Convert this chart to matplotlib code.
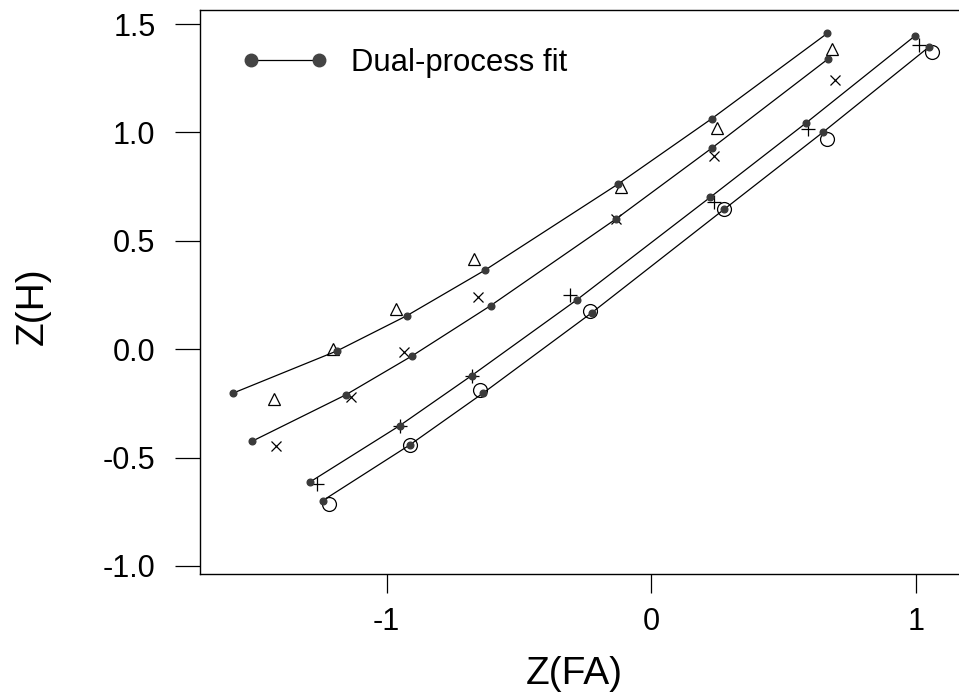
import matplotlib
matplotlib.use("Agg")
import matplotlib.pyplot as plt
from matplotlib.lines import Line2D

plt.rcParams["font.family"] = ["Liberation Sans", "DejaVu Sans"]

# Beobachtete z-ROC-Punkte und Dual-Process-Fit je Bedingung
fit_fa_tri = [-1.581, -1.186, -0.923, -0.628, -0.124, 0.228, 0.666]
fit_h_tri = [-0.203, -0.007, 0.155, 0.365, 0.763, 1.063, 1.458]
obs_fa_tri = [-1.427, -1.203, -0.963, -0.670, -0.113, 0.247, 0.682]
obs_h_tri = [-0.231, 0.001, 0.185, 0.415, 0.750, 1.019, 1.383]

fit_fa_x = [-1.509, -1.155, -0.904, -0.607, -0.132, 0.228, 0.668]
fit_h_x = [-0.425, -0.211, -0.031, 0.201, 0.602, 0.927, 1.339]
obs_fa_x = [-1.419, -1.133, -0.935, -0.655, -0.132, 0.237, 0.694]
obs_h_x = [-0.448, -0.219, -0.013, 0.242, 0.602, 0.893, 1.242]

fit_fa_plus = [-1.290, -0.951, -0.679, -0.282, 0.224, 0.583, 0.996]
fit_h_plus = [-0.613, -0.353, -0.122, 0.227, 0.702, 1.042, 1.445]
obs_fa_plus = [-1.264, -0.951, -0.679, -0.308, 0.236, 0.594, 1.012]
obs_h_plus = [-0.624, -0.353, -0.122, 0.250, 0.680, 1.014, 1.403]

fit_fa_circ = [-1.242, -0.913, -0.636, -0.225, 0.275, 0.650, 1.048]
fit_h_circ = [-0.699, -0.442, -0.203, 0.168, 0.645, 1.002, 1.393]
obs_fa_circ = [-1.216, -0.913, -0.648, -0.233, 0.275, 0.666, 1.060]
obs_h_circ = [-0.715, -0.442, -0.188, 0.176, 0.645, 0.970, 1.369]

x_ticks = [-1, 0, 1]
y_ticks = [-1.0, -0.5, 0.0, 0.5, 1.0, 1.5]

fig = plt.figure(figsize=(9.59, 6.94), dpi=100)
ax = fig.add_axes([200 / 959, 1 - 574 / 694, 759 / 959, 564 / 694])

fits = [(fit_fa_tri, fit_h_tri), (fit_fa_x, fit_h_x),
        (fit_fa_plus, fit_h_plus), (fit_fa_circ, fit_h_circ)]
for fa, h in fits:
    ax.plot(fa, h, color="black", lw=0.9, marker="o", markersize=4.8,
            markerfacecolor="#3a3a3a", markeredgecolor="#3a3a3a", zorder=3)

ax.plot(obs_fa_tri, obs_h_tri, ls="none", marker="^", markersize=8,
        markerfacecolor="none", markeredgecolor="black", markeredgewidth=0.9)
ax.plot(obs_fa_x, obs_h_x, ls="none", marker="x", markersize=7.5,
        color="black", markeredgewidth=0.9)
ax.plot(obs_fa_plus, obs_h_plus, ls="none", marker="+", markersize=10,
        color="black", markeredgewidth=0.9)
ax.plot(obs_fa_circ, obs_h_circ, ls="none", marker="o", markersize=10,
        markerfacecolor="none", markeredgecolor="black", markeredgewidth=0.9)

ax.set_xlim(-1.705, 1.163)
ax.set_ylim(-1.037, 1.565)
ax.set_xticks(x_ticks)
ax.set_xticklabels([str(t) for t in x_ticks])
ax.set_yticks(y_ticks)
ax.set_yticklabels([f"{t:.1f}" for t in y_ticks])
ax.spines["right"].set_visible(False)
for s in ("left", "bottom", "top"):
    ax.spines[s].set_linewidth(1.0)
ax.tick_params(axis="y", direction="out", length=18, width=0.9, pad=14, labelsize=22)
ax.tick_params(axis="x", direction="out", length=14, width=0.9, pad=10, labelsize=22)

ax.set_xlabel("Z(FA)", fontsize=28)
ax.set_ylabel("Z(H)", fontsize=28)
ax.xaxis.set_label_coords(0.493, -0.145)
ax.yaxis.set_label_coords(-0.197, 0.475)

handle = Line2D([], [], color="black", lw=0.9, marker="o", markersize=9,
                markerfacecolor="#444444", markeredgecolor="#444444")
ax.legend([handle], ["Dual-process fit"], loc="center left",
          bbox_to_anchor=(242 / 959, 1 - 63 / 694), bbox_transform=fig.transFigure,
          frameon=False, numpoints=2, handlelength=2.79, handletextpad=0.72,
          borderpad=0, borderaxespad=0, fontsize=22.4)

fig.savefig("out.png", dpi=100)
